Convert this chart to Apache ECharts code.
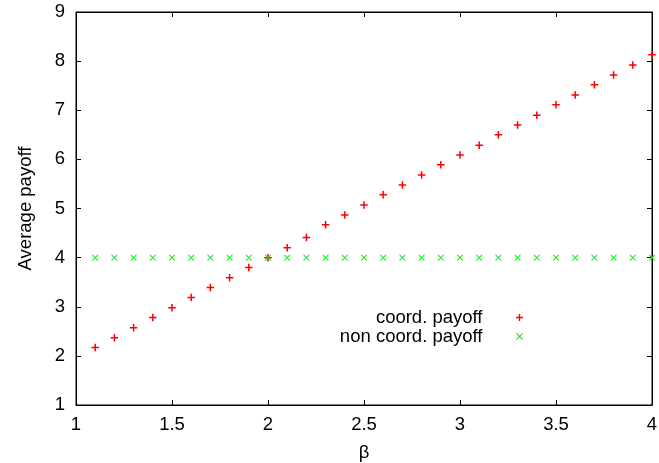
<!DOCTYPE html>
<html>
<head>
<meta charset="utf-8">
<script src="https://cdn.jsdelivr.net/npm/echarts@6/dist/echarts.min.js"></script>
<style>
  html, body { margin: 0; padding: 0; background: #fff; }
  #chart { width: 659px; height: 463px; }
</style>
</head>
<body>
<div id="chart"></div>
<script>
// β values sampled along the horizontal axis
const beta = [1.1, 1.2, 1.3, 1.4, 1.5, 1.6, 1.7, 1.8, 1.9, 2.0,
              2.1, 2.2, 2.3, 2.4, 2.5, 2.6, 2.7, 2.8, 2.9, 3.0,
              3.1, 3.2, 3.3, 3.4, 3.5, 3.6, 3.7, 3.8, 3.9, 4.0];
// average payoff of coordinating players
const coordPayoff = [2.17, 2.37, 2.57, 2.78, 2.98, 3.19, 3.39, 3.59, 3.80, 4.00,
                     4.20, 4.41, 4.67, 4.87, 5.07, 5.28, 5.48, 5.68, 5.89, 6.09,
                     6.29, 6.50, 6.70, 6.90, 7.11, 7.31, 7.52, 7.72, 7.92, 8.13];
// average payoff of non-coordinating players
const nonCoordPayoff = [4, 4, 4, 4, 4, 4, 4, 4, 4, 4,
                        4, 4, 4, 4, 4, 4, 4, 4, 4, 4,
                        4, 4, 4, 4, 4, 4, 4, 4, 4, 4];
const seriesNames = ['coord. payoff', 'non coord. payoff'];
const xTicks = { min: 1, max: 4, step: 0.5 };
const yTicks = { min: 1, max: 9, step: 1 };

const FONT = '"Liberation Sans", Arial, Helvetica, sans-serif';
const FS = 18.5;

// gnuplot-like point glyphs as filled outlines
const PLUS = 'path://M2.8,0h1.4v2.8h2.8v1.4h-2.8v2.8h-1.4v-2.8h-2.8v-1.4h2.8z';
const CROSS = 'path://M0,1L1,0L5,4L9,0L10,1L6,5L10,9L9,10L5,6L1,10L0,9L4,5Z';

const pairs = (xs, ys) => xs.map((x, i) => [x, ys[i]]);

const tickStyle = { inside: true, length: 5, lineStyle: { color: '#000', width: 1 } };
const legendText = { fontSize: FS, color: '#000', fontFamily: FONT };

const chart = echarts.init(document.getElementById('chart'), null, { renderer: 'canvas' });
chart.setOption({
  animation: false,
  backgroundColor: '#fff',
  textStyle: { fontFamily: FONT },
  grid: {
    left: 76, right: 7, top: 12, bottom: 58,
    outerBoundsMode: 'none', containLabel: false,
    show: true, borderColor: '#000', borderWidth: 1, backgroundColor: 'transparent'
  },
  xAxis: [
    {
      type: 'value', min: xTicks.min, max: xTicks.max, interval: xTicks.step,
      position: 'bottom',
      name: 'β', nameLocation: 'middle', nameGap: 38,
      nameTextStyle: { fontSize: FS, color: '#000', fontFamily: FONT },
      axisLine: { show: true, lineStyle: { color: '#000', width: 1 } },
      axisTick: tickStyle,
      axisLabel: { fontSize: FS, color: '#000', margin: 10, fontFamily: FONT },
      splitLine: { show: false }
    },
    {
      type: 'value', min: xTicks.min, max: xTicks.max, interval: xTicks.step,
      position: 'top',
      axisLine: { show: true, lineStyle: { color: '#000', width: 1 } },
      axisTick: tickStyle,
      axisLabel: { show: false },
      splitLine: { show: false }
    }
  ],
  yAxis: [
    {
      type: 'value', min: yTicks.min, max: yTicks.max, interval: yTicks.step,
      position: 'left',
      name: 'Average payoff', nameLocation: 'middle', nameGap: 41,
      nameTextStyle: { fontSize: FS, color: '#000', fontFamily: FONT },
      axisLine: { show: true, lineStyle: { color: '#000', width: 1 } },
      axisTick: tickStyle,
      axisLabel: { fontSize: FS, color: '#000', margin: 11, fontFamily: FONT },
      splitLine: { show: false }
    },
    {
      type: 'value', min: yTicks.min, max: yTicks.max, interval: yTicks.step,
      position: 'right',
      axisLine: { show: true, lineStyle: { color: '#000', width: 1 } },
      axisTick: tickStyle,
      axisLabel: { show: false },
      splitLine: { show: false }
    }
  ],
  legend: [
    {
      data: [seriesNames[0]], right: 136, top: 308, orient: 'vertical', align: 'right',
      padding: 0, itemWidth: 64, itemHeight: 7, symbolKeepAspect: true,
      itemStyle: { color: '#ff0000', borderWidth: 0 },
      textStyle: legendText
    },
    {
      data: [seriesNames[1]], right: 136, top: 327, orient: 'vertical', align: 'right',
      padding: 0, itemWidth: 64, itemHeight: 7, symbolKeepAspect: true,
      itemStyle: { color: '#00ee00', borderWidth: 0 },
      textStyle: legendText
    }
  ],
  series: [
    {
      name: seriesNames[0], type: 'scatter', clip: false,
      data: pairs(beta, coordPayoff),
      symbol: PLUS, symbolSize: 7.5,
      itemStyle: { color: '#ff0000', borderWidth: 0, opacity: 1 }
    },
    {
      name: seriesNames[1], type: 'scatter', clip: false,
      data: pairs(beta, nonCoordPayoff),
      symbol: CROSS, symbolSize: 6.5,
      itemStyle: { color: '#00ee00', borderWidth: 0, opacity: 1 }
    }
  ]
});
</script>
</body>
</html>
